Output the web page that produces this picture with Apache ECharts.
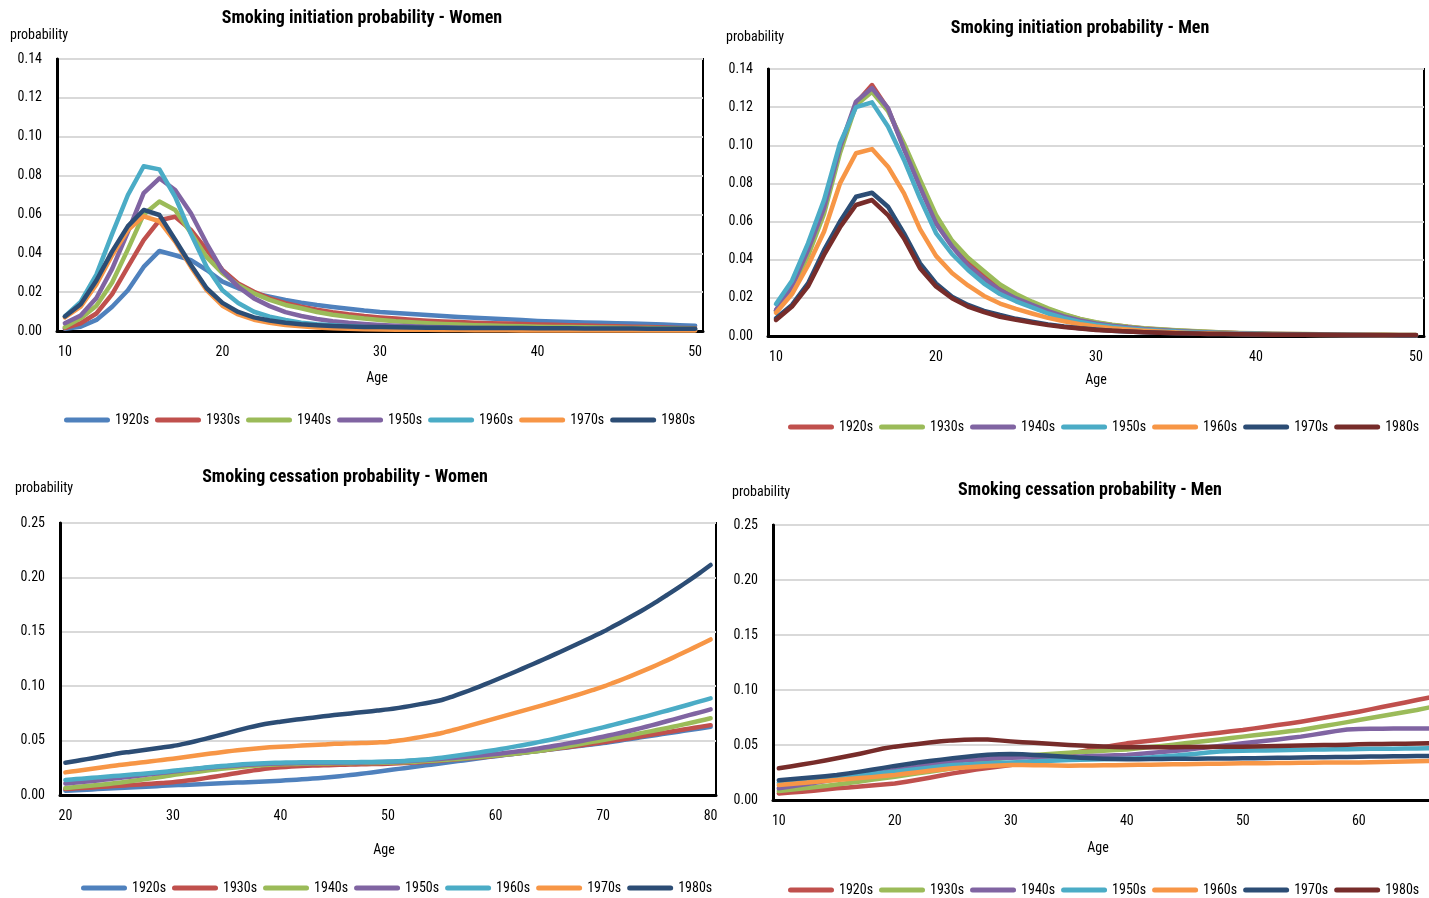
<!DOCTYPE html>
<html>
<head>
<meta charset="utf-8">
<script src="https://cdn.jsdelivr.net/npm/echarts@6/dist/echarts.min.js"></script>
<style>
  html, body { margin: 0; padding: 0; background: #fff; overflow: hidden; width: 1429px; height: 898px; }
  .panel { position: absolute; }
</style>
</head>
<body>
<div id="p1" class="panel" style="left:0;top:0;width:715px;height:449px"></div>
<div id="p2" class="panel" style="left:715px;top:0;width:714px;height:449px"></div>
<div id="p3" class="panel" style="left:0;top:449px;width:722px;height:449px"></div>
<div id="p4" class="panel" style="left:715px;top:449px;width:900px;height:449px"></div>
<script>
// ---------- categories (age, one per year) ----------
function ageRange(a, b) { const out = []; for (let i = a; i <= b; i++) out.push(String(i)); return out; }
const agesInit = ageRange(10, 50);
const agesCessWomen = ageRange(20, 80);
const agesCessMen = ageRange(10, 80);

const cohorts = ['1920s', '1930s', '1940s', '1950s', '1960s', '1970s', '1980s'];

// ---------- smoking initiation probability, women (ages 10-50) ----------
const initW1920 = [0.0012,0.0022,0.0057,0.0125,0.021,0.033,0.0412,0.039,0.0365,0.0314,0.0254,0.022,0.0194,0.0177,0.016,0.0146,0.0134,0.0124,0.0114,0.0105,0.0098,0.0093,0.0088,0.0082,0.0077,0.0072,0.0068,0.0064,0.006,0.0056,0.0052,0.0049,0.0046,0.0044,0.0042,0.004,0.0038,0.0036,0.0033,0.003,0.0027];
const initW1930 = [0.0015,0.004,0.009,0.019,0.033,0.0468,0.057,0.0588,0.052,0.0417,0.0314,0.0245,0.0202,0.0168,0.0143,0.0125,0.011,0.0097,0.0086,0.0077,0.0070,0.0064,0.0058,0.0053,0.0049,0.0046,0.0043,0.004,0.0038,0.0036,0.0034,0.0032,0.003,0.0028,0.0026,0.0024,0.0022,0.002,0.0018,0.0016,0.0014];
const initW1940 = [0.002,0.0065,0.013,0.025,0.042,0.060,0.0666,0.0623,0.0504,0.038,0.0298,0.0237,0.0194,0.016,0.0134,0.0117,0.0098,0.0084,0.0073,0.0064,0.0057,0.005,0.0045,0.004,0.0036,0.0033,0.003,0.0028,0.0026,0.0024,0.0022,0.0021,0.002,0.0019,0.0018,0.0017,0.0016,0.0015,0.0014,0.0013,0.0012];
const initW1950 = [0.004,0.008,0.017,0.032,0.051,0.071,0.0786,0.0726,0.0606,0.045,0.031,0.0228,0.0168,0.0128,0.0097,0.0077,0.0062,0.005,0.0042,0.0036,0.0031,0.0027,0.0024,0.0021,0.0019,0.0017,0.0016,0.0015,0.0014,0.0013,0.0012,0.0011,0.0011,0.001,0.001,0.0009,0.0009,0.0008,0.0008,0.0007,0.0007];
const initW1960 = [0.0075,0.015,0.029,0.050,0.070,0.0848,0.0832,0.069,0.050,0.033,0.021,0.0144,0.0099,0.0074,0.0057,0.0043,0.0035,0.0029,0.0024,0.002,0.0017,0.0015,0.0013,0.0012,0.0011,0.001,0.0009,0.0009,0.0008,0.0008,0.0007,0.0007,0.0007,0.0006,0.0006,0.0006,0.0006,0.0005,0.0005,0.0005,0.0005];
const initW1970 = [0.007,0.0125,0.024,0.039,0.052,0.059,0.0565,0.046,0.033,0.021,0.013,0.0085,0.0058,0.0042,0.0031,0.0024,0.0018,0.0014,0.0011,0.0009,0.0008,0.0007,0.0006,0.0006,0.0005,0.0005,0.0004,0.0004,0.0004,0.0003,0.0003,0.0003,0.0003,0.0003,0.0002,0.0002,0.0002,0.0002,0.0002,0.0002,0.0002];
const initW1980 = [0.0075,0.0138,0.026,0.041,0.054,0.0623,0.0597,0.047,0.034,0.022,0.0145,0.0098,0.007,0.0054,0.0043,0.0035,0.003,0.0026,0.0023,0.0021,0.002,0.0019,0.0018,0.0017,0.0017,0.0016,0.0016,0.0015,0.0015,0.0015,0.0014,0.0014,0.0014,0.0013,0.0013,0.0013,0.0013,0.0012,0.0012,0.0012,0.0012];

// ---------- smoking initiation probability, men (ages 10-50) ----------
const initM1920 = [0.0135,0.025,0.044,0.067,0.098,0.122,0.1316,0.119,0.099,0.080,0.062,0.049,0.0395,0.0325,0.026,0.0213,0.0174,0.0141,0.0112,0.0088,0.007,0.0058,0.0048,0.004,0.0034,0.0029,0.0025,0.0021,0.0018,0.0015,0.0013,0.0011,0.001,0.0009,0.0008,0.0007,0.0006,0.0005,0.0005,0.0004,0.0004];
const initM1930 = [0.013,0.024,0.042,0.064,0.096,0.121,0.128,0.118,0.101,0.082,0.0635,0.050,0.041,0.034,0.027,0.022,0.018,0.0145,0.0115,0.009,0.0072,0.0059,0.0049,0.0041,0.0035,0.003,0.0026,0.0022,0.0019,0.0016,0.0014,0.0012,0.0011,0.001,0.0009,0.0008,0.0007,0.0006,0.0006,0.0005,0.0005];
const initM1940 = [0.0136,0.026,0.045,0.067,0.099,0.1229,0.130,0.1195,0.098,0.078,0.059,0.047,0.037,0.030,0.024,0.0197,0.0163,0.013,0.0103,0.0082,0.0066,0.0054,0.0045,0.0037,0.0031,0.0026,0.0022,0.0019,0.0016,0.0014,0.0012,0.001,0.0009,0.0008,0.0007,0.0006,0.0005,0.0005,0.0004,0.0004,0.0004];
const initM1950 = [0.0168,0.029,0.0486,0.0713,0.101,0.120,0.1225,0.1098,0.0923,0.0722,0.054,0.043,0.0346,0.0275,0.022,0.0182,0.015,0.0118,0.0093,0.0074,0.0059,0.0048,0.004,0.0033,0.0028,0.0023,0.002,0.0017,0.0014,0.0012,0.001,0.0009,0.0008,0.0007,0.0006,0.0005,0.0005,0.0004,0.0004,0.0003,0.0003];
const initM1960 = [0.0122,0.022,0.037,0.0547,0.080,0.0958,0.098,0.0888,0.0748,0.056,0.042,0.033,0.0265,0.021,0.017,0.0142,0.0118,0.0095,0.0077,0.0062,0.005,0.0041,0.0034,0.0028,0.0023,0.0019,0.0016,0.0014,0.0012,0.001,0.0009,0.0008,0.0007,0.0006,0.0005,0.0005,0.0004,0.0004,0.0003,0.0003,0.0003];
const initM1970 = [0.0093,0.0163,0.0276,0.045,0.060,0.073,0.0751,0.0678,0.0538,0.0381,0.0276,0.0206,0.0163,0.0132,0.011,0.009,0.0075,0.0061,0.005,0.0041,0.0034,0.0028,0.0024,0.002,0.0017,0.0015,0.0013,0.0011,0.001,0.0009,0.0008,0.0007,0.0006,0.0006,0.0005,0.0005,0.0004,0.0004,0.0004,0.0003,0.0003];
const initM1980 = [0.0084,0.0154,0.026,0.0425,0.057,0.0687,0.0713,0.0634,0.0512,0.0355,0.026,0.0198,0.0154,0.0125,0.0101,0.0085,0.007,0.0057,0.0047,0.0039,0.0032,0.0027,0.0023,0.002,0.0017,0.0015,0.0013,0.0011,0.001,0.0009,0.0008,0.0007,0.0007,0.0006,0.0006,0.0005,0.0005,0.0005,0.0005,0.0005,0.0005];

// ---------- smoking cessation probability, women (ages 20-80) ----------
const cessW1920 = [0.0040,0.0044,0.0049,0.0054,0.0059,0.0064,0.0069,0.0074,0.0079,0.0084,0.0089,0.0093,0.0097,0.0101,0.0105,0.0110,0.0114,0.0118,0.0122,0.0127,0.0132,0.0138,0.0144,0.0151,0.0159,0.0168,0.0178,0.0189,0.0201,0.0214,0.0227,0.0240,0.0253,0.0266,0.0279,0.0292,0.0305,0.0318,0.0331,0.0344,0.0357,0.0369,0.0381,0.0393,0.0405,0.0417,0.0429,0.0441,0.0453,0.0465,0.0477,0.0492,0.0507,0.0522,0.0537,0.0552,0.0567,0.0582,0.0597,0.0612,0.0627];
const cessW1930 = [0.0055,0.0061,0.0067,0.0073,0.0079,0.0085,0.0091,0.0097,0.0104,0.0111,0.0118,0.0129,0.0141,0.0155,0.0170,0.0186,0.0203,0.0219,0.0233,0.0245,0.0254,0.0261,0.0266,0.0270,0.0273,0.0276,0.0279,0.0281,0.0283,0.0285,0.0287,0.0291,0.0296,0.0302,0.0309,0.0317,0.0325,0.0333,0.0341,0.0350,0.0360,0.0371,0.0382,0.0394,0.0406,0.0418,0.0431,0.0444,0.0457,0.0471,0.0485,0.0500,0.0515,0.0530,0.0546,0.0562,0.0578,0.0594,0.0610,0.0626,0.0642];
const cessW1940 = [0.0064,0.0073,0.0082,0.0092,0.0102,0.0113,0.0126,0.0139,0.0153,0.0168,0.0184,0.0197,0.0210,0.0223,0.0235,0.0246,0.0256,0.0265,0.0272,0.0278,0.0282,0.0285,0.0287,0.0289,0.0290,0.0291,0.0292,0.0293,0.0294,0.0295,0.0297,0.0300,0.0304,0.0309,0.0315,0.0321,0.0328,0.0336,0.0344,0.0353,0.0362,0.0372,0.0382,0.0393,0.0405,0.0420,0.0436,0.0452,0.0470,0.0488,0.0506,0.0523,0.0541,0.0559,0.0578,0.0597,0.0617,0.0638,0.0660,0.0682,0.0705];
const cessW1950 = [0.0105,0.0114,0.0124,0.0134,0.0145,0.0156,0.0168,0.0180,0.0192,0.0204,0.0216,0.0227,0.0238,0.0248,0.0257,0.0265,0.0272,0.0278,0.0283,0.0287,0.0290,0.0292,0.0294,0.0295,0.0296,0.0297,0.0298,0.0299,0.0300,0.0302,0.0304,0.0308,0.0313,0.0319,0.0326,0.0333,0.0341,0.0349,0.0358,0.0367,0.0377,0.0388,0.0400,0.0412,0.0428,0.0444,0.0461,0.0479,0.0497,0.0516,0.0536,0.0557,0.0579,0.0602,0.0627,0.0653,0.0680,0.0707,0.0734,0.0760,0.0787];
const cessW1960 = [0.0138,0.0146,0.0154,0.0162,0.0170,0.0178,0.0186,0.0194,0.0203,0.0212,0.0222,0.0232,0.0242,0.0252,0.0261,0.0270,0.0278,0.0285,0.0290,0.0294,0.0297,0.0299,0.0300,0.0301,0.0301,0.0301,0.0301,0.0302,0.0303,0.0305,0.0307,0.0311,0.0316,0.0323,0.0332,0.0343,0.0356,0.0370,0.0384,0.0399,0.0414,0.0431,0.0449,0.0467,0.0486,0.0506,0.0528,0.0551,0.0574,0.0598,0.0622,0.0647,0.0672,0.0697,0.0723,0.0750,0.0777,0.0804,0.0832,0.0860,0.0888];
const cessW1970 = [0.0208,0.0221,0.0234,0.0248,0.0262,0.0276,0.0287,0.0298,0.0310,0.0322,0.0334,0.0347,0.0360,0.0374,0.0387,0.0400,0.0411,0.0421,0.0430,0.0438,0.0444,0.0449,0.0454,0.0459,0.0464,0.0470,0.0473,0.0476,0.0479,0.0483,0.0488,0.0500,0.0515,0.0532,0.0550,0.0570,0.0595,0.0622,0.0649,0.0677,0.0705,0.0732,0.0759,0.0787,0.0815,0.0843,0.0872,0.0902,0.0932,0.0964,0.0996,0.1033,0.1071,0.1111,0.1152,0.1195,0.1240,0.1286,0.1333,0.1381,0.1430];
const cessW1980 = [0.0297,0.0313,0.0330,0.0347,0.0365,0.0383,0.0396,0.0409,0.0422,0.0436,0.0450,0.0470,0.0492,0.0516,0.0541,0.0567,0.0594,0.0619,0.0641,0.0660,0.0674,0.0687,0.0699,0.0711,0.0723,0.0735,0.0745,0.0755,0.0765,0.0776,0.0787,0.0801,0.0817,0.0835,0.0853,0.0873,0.0905,0.0940,0.0977,0.1016,0.1057,0.1098,0.1140,0.1183,0.1226,0.1270,0.1315,0.1360,0.1406,0.1453,0.1500,0.1553,0.1606,0.1661,0.1718,0.1777,0.1841,0.1906,0.1973,0.2042,0.2114];

// ---------- smoking cessation probability, men (ages 10-67) ----------
const cessM1920 = [0.0060,0.0068,0.0076,0.0085,0.0095,0.0106,0.0114,0.0122,0.0131,0.0140,0.0150,0.0166,0.0184,0.0203,0.0222,0.0242,0.0259,0.0276,0.0290,0.0304,0.0318,0.0336,0.0355,0.0375,0.0397,0.0420,0.0440,0.0460,0.0479,0.0497,0.0515,0.0527,0.0539,0.0551,0.0563,0.0576,0.0588,0.0600,0.0612,0.0624,0.0636,0.0651,0.0666,0.0681,0.0696,0.0712,0.0730,0.0748,0.0766,0.0784,0.0803,0.0824,0.0845,0.0866,0.0887,0.0909,0.0930,0.0951];
const cessM1930 = [0.0082,0.0093,0.0104,0.0116,0.0128,0.0140,0.0154,0.0168,0.0183,0.0197,0.0212,0.0227,0.0242,0.0257,0.0272,0.0288,0.0310,0.0332,0.0355,0.0375,0.0390,0.0400,0.0409,0.0416,0.0423,0.0430,0.0436,0.0442,0.0448,0.0454,0.0460,0.0470,0.0481,0.0492,0.0503,0.0515,0.0527,0.0539,0.0551,0.0563,0.0576,0.0588,0.0600,0.0612,0.0624,0.0636,0.0654,0.0672,0.0690,0.0708,0.0727,0.0745,0.0763,0.0781,0.0800,0.0818,0.0840,0.0860];
const cessM1940 = [0.0106,0.0122,0.0138,0.0155,0.0172,0.0190,0.0206,0.0222,0.0239,0.0256,0.0273,0.0289,0.0305,0.0320,0.0335,0.0348,0.0358,0.0367,0.0375,0.0381,0.0385,0.0387,0.0388,0.0389,0.0390,0.0392,0.0395,0.0399,0.0403,0.0406,0.0410,0.0418,0.0427,0.0436,0.0445,0.0455,0.0467,0.0479,0.0491,0.0503,0.0515,0.0527,0.0539,0.0551,0.0563,0.0576,0.0592,0.0609,0.0626,0.0641,0.0645,0.0647,0.0648,0.0649,0.0650,0.0650,0.0651,0.0652];
const cessM1950 = [0.0158,0.0166,0.0175,0.0184,0.0194,0.0204,0.0215,0.0226,0.0236,0.0247,0.0258,0.0270,0.0282,0.0294,0.0306,0.0318,0.0323,0.0328,0.0333,0.0338,0.0342,0.0346,0.0350,0.0355,0.0360,0.0364,0.0366,0.0368,0.0370,0.0372,0.0375,0.0380,0.0387,0.0395,0.0403,0.0411,0.0421,0.0432,0.0441,0.0446,0.0448,0.0450,0.0451,0.0453,0.0454,0.0456,0.0458,0.0459,0.0461,0.0462,0.0464,0.0465,0.0466,0.0467,0.0468,0.0469,0.0470,0.0471];
const cessM1960 = [0.0136,0.0145,0.0154,0.0163,0.0172,0.0181,0.0190,0.0199,0.0208,0.0218,0.0227,0.0240,0.0253,0.0265,0.0277,0.0288,0.0296,0.0303,0.0309,0.0314,0.0318,0.0318,0.0317,0.0315,0.0313,0.0312,0.0313,0.0314,0.0315,0.0317,0.0318,0.0320,0.0321,0.0323,0.0324,0.0326,0.0327,0.0329,0.0330,0.0332,0.0333,0.0334,0.0335,0.0336,0.0337,0.0338,0.0339,0.0340,0.0341,0.0341,0.0342,0.0344,0.0346,0.0348,0.0350,0.0352,0.0355,0.0357];
const cessM1970 = [0.0180,0.0188,0.0197,0.0206,0.0216,0.0227,0.0242,0.0258,0.0275,0.0292,0.0310,0.0325,0.0340,0.0354,0.0367,0.0379,0.0391,0.0402,0.0411,0.0416,0.0418,0.0415,0.0410,0.0404,0.0397,0.0390,0.0385,0.0380,0.0376,0.0373,0.0370,0.0371,0.0372,0.0373,0.0374,0.0375,0.0376,0.0377,0.0377,0.0378,0.0379,0.0380,0.0382,0.0383,0.0385,0.0386,0.0388,0.0389,0.0391,0.0392,0.0394,0.0395,0.0396,0.0397,0.0398,0.0399,0.0400,0.0401];
const cessM1980 = [0.0288,0.0305,0.0322,0.0340,0.0359,0.0379,0.0400,0.0421,0.0444,0.0468,0.0485,0.0498,0.0510,0.0522,0.0534,0.0542,0.0547,0.0549,0.0550,0.0542,0.0533,0.0526,0.0520,0.0514,0.0507,0.0500,0.0495,0.0490,0.0486,0.0482,0.0479,0.0479,0.0479,0.0480,0.0480,0.0481,0.0482,0.0482,0.0483,0.0484,0.0485,0.0487,0.0489,0.0491,0.0493,0.0495,0.0497,0.0499,0.0501,0.0503,0.0506,0.0508,0.0509,0.0511,0.0512,0.0514,0.0515,0.0516];

// ---------- palettes ----------
const colorsWomen = ['#4F81BD', '#C0504D', '#9BBB59', '#8064A2', '#4BACC6', '#F79646', '#2C4D75'];
const colorsMen   = ['#C0504D', '#9BBB59', '#8064A2', '#4BACC6', '#F79646', '#2C4D75', '#772C2A'];

const FONT = '"Roboto Condensed", "Open Sans Condensed", sans-serif';
const CAPSULE = 'path://M2.5,0 L43.5,0 A2.5,2.5 0 0 1 43.5,5 L2.5,5 A2.5,2.5 0 0 1 2.5,0 Z';

function buildOption(cfg) {
  return {
    animation: false,
    textStyle: { fontFamily: FONT },
    color: cfg.colors,
    grid: {
      left: cfg.grid[0], top: cfg.grid[1], width: cfg.grid[2], height: cfg.grid[3],
      show: true, borderColor: '#000', borderWidth: 2, backgroundColor: 'transparent'
    },
    xAxis: {
      type: 'category',
      data: cfg.ages,
      boundaryGap: true,
      axisLine: { show: true, lineStyle: { color: '#000', width: 3 } },
      axisTick: { show: false },
      axisLabel: { interval: 9, margin: 14, color: '#000', fontSize: 14, fontFamily: FONT },
      splitLine: { show: false }
    },
    yAxis: {
      type: 'value',
      min: 0, max: cfg.yMax, interval: cfg.yStep,
      axisLine: { show: true, lineStyle: { color: '#000', width: 3 } },
      axisTick: { show: false },
      axisLabel: { margin: 15, color: '#000', fontSize: 14, fontFamily: FONT,
        formatter: v => v.toFixed(2) },
      splitLine: { show: true, lineStyle: { color: '#D9D9D9', width: 2 } }
    },
    legend: {
      left: cfg.legendLeft, top: cfg.legendTop, width: 680, padding: 0,
      icon: CAPSULE, itemWidth: 46, itemHeight: 5, itemGap: 6,
      textStyle: { color: '#000', fontSize: 14, fontFamily: FONT },
      data: cohorts
    },
    graphic: [
      { type: 'text', x: cfg.title[0], y: cfg.title[1], silent: true,
        style: { text: cfg.title[2], fill: '#000', font: 'bold 18px ' + FONT, align: 'center', verticalAlign: 'middle' } },
      { type: 'text', x: cfg.yName[0], y: cfg.yName[1], silent: true,
        style: { text: 'probability', fill: '#000', font: '14px ' + FONT, align: 'left', verticalAlign: 'middle' } },
      { type: 'text', x: cfg.xName[0], y: cfg.xName[1], silent: true,
        style: { text: 'Age', fill: '#000', font: '14px ' + FONT, align: 'center', verticalAlign: 'middle' } }
    ],
    series: cfg.series.map((d, i) => ({
      name: cohorts[i],
      type: 'line',
      data: d,
      symbol: 'none',
      smooth: cfg.smooth || false,
      lineStyle: { width: 4.5, cap: 'round', join: 'round' }
    }))
  };
}

const panels = [
  { el: 'p1', colors: colorsWomen, ages: agesInit, yMax: 0.14, yStep: 0.02,
    grid: [57, 59, 646, 272], title: [362, 18, 'Smoking initiation probability - Women'],
    yName: [10, 35], xName: [377, 378], legendLeft: 64, legendTop: 413,
    series: [initW1920, initW1930, initW1940, initW1950, initW1960, initW1970, initW1980] },
  { el: 'p2', colors: colorsMen, ages: agesInit, yMax: 0.14, yStep: 0.02,
    grid: [53, 69, 656, 267], title: [365, 28, 'Smoking initiation probability - Men'],
    yName: [11, 37], xName: [381, 380], legendLeft: 73, legendTop: 420,
    series: [initM1920, initM1930, initM1940, initM1950, initM1960, initM1970, initM1980] },
  { el: 'p3', colors: colorsWomen, ages: agesCessWomen, yMax: 0.25, yStep: 0.05, smooth: 0.3,
    grid: [60, 74, 656, 272], title: [345, 28, 'Smoking cessation probability - Women'],
    yName: [15, 39], xName: [384, 401], legendLeft: 81, legendTop: 432,
    series: [cessW1920, cessW1930, cessW1940, cessW1950, cessW1960, cessW1970, cessW1980] },
  { el: 'p4', colors: colorsMen, ages: agesCessMen, yMax: 0.25, yStep: 0.05,
    grid: [58, 76, 823.6, 275], title: [375, 41, 'Smoking cessation probability - Men'],
    yName: [17, 43], xName: [383, 399], legendLeft: 73, legendTop: 434,
    series: [cessM1920, cessM1930, cessM1940, cessM1950, cessM1960, cessM1970, cessM1980] }
];

panels.forEach(p => {
  const chart = echarts.init(document.getElementById(p.el), null, { renderer: 'canvas' });
  chart.setOption(buildOption(p));
});
</script>
</body>
</html>
